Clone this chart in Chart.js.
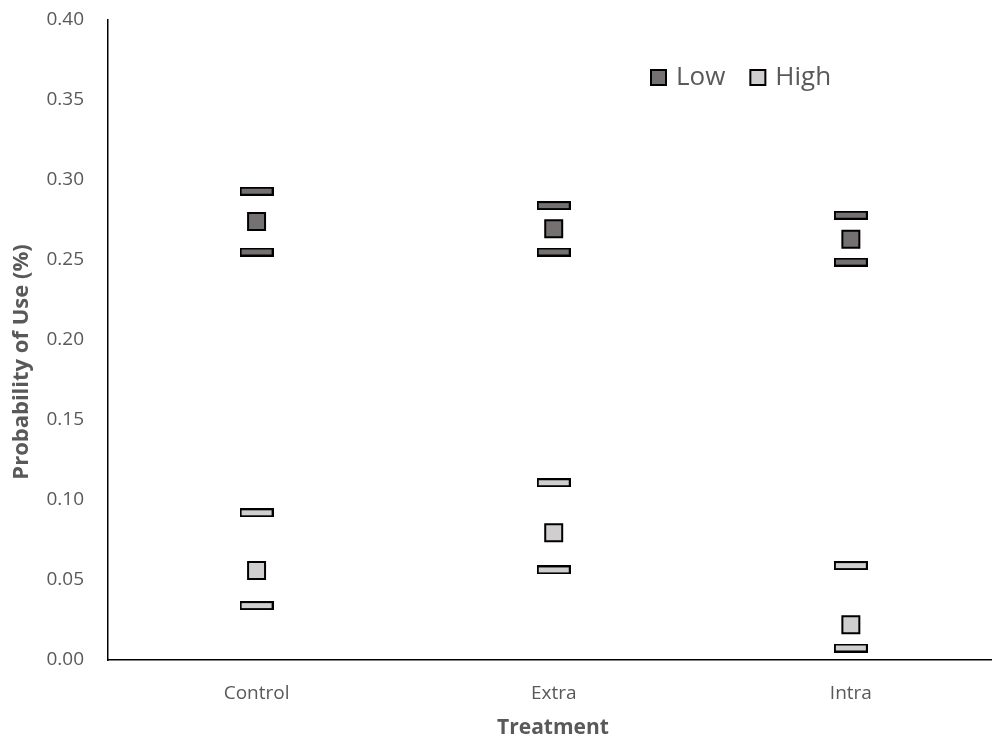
<!DOCTYPE html>
<html>
<head>
<meta charset="utf-8">
<script src="https://cdn.jsdelivr.net/npm/chart.js@4.4.1/dist/chart.umd.min.js"></script>
<style>
  html, body { margin: 0; padding: 0; background: #ffffff; }
  #wrap { position: relative; width: 992px; height: 738px; }
</style>
</head>
<body>
<div id="wrap"><canvas id="chart" width="992" height="738"></canvas></div>
<script>
// Treatment groups along the x axis
const categories = ['Control', 'Extra', 'Intra'];

// Low density: estimate with upper and lower confidence limits
const lowMean  = [0.274, 0.2695, 0.263];
const lowUpper = [0.293, 0.284, 0.278];
const lowLower = [0.255, 0.255, 0.2487];

// High density: estimate with upper and lower confidence limits
const highMean  = [0.056, 0.0795, 0.022];
const highUpper = [0.092, 0.1108, 0.059];
const highLower = [0.034, 0.0563, 0.0075];

// Y axis ticks
const yTicks = [0, 0.05, 0.10, 0.15, 0.20, 0.25, 0.30, 0.35, 0.40];

const LOW_FILL = '#767171';
const HIGH_FILL = '#d0cece';
const TEXT = '#595959';
const FONT = "'Open Sans', 'DejaVu Sans', sans-serif";

// Flat bar used as the marker for the confidence limits
function dashMarker(fill) {
  const c = document.createElement('canvas');
  c.width = 34; c.height = 9;
  const g = c.getContext('2d');
  g.fillStyle = fill;
  g.fillRect(1, 1, 32, 7);
  g.strokeStyle = '#000000';
  g.lineWidth = 2;
  g.strokeRect(1, 1, 32, 7);
  return c;
}

function pts(values) {
  return values.map((v, i) => ({ x: i, y: v }));
}

function series(label, values, fill, style, radius, legend) {
  return {
    label: label,
    data: pts(values),
    showLine: false,
    pointStyle: style,
    pointRadius: radius,
    pointHoverRadius: radius,
    pointBackgroundColor: fill,
    pointBorderColor: '#000000',
    pointBorderWidth: 2,
    backgroundColor: fill,
    borderColor: '#000000',
    inLegend: legend
  };
}

const datasets = [
  series('Low', lowUpper, LOW_FILL, dashMarker(LOW_FILL), 4, false),
  series('Low', lowLower, LOW_FILL, dashMarker(LOW_FILL), 4, false),
  series('High', highUpper, HIGH_FILL, dashMarker(HIGH_FILL), 4, false),
  series('High', highLower, HIGH_FILL, dashMarker(HIGH_FILL), 4, false),
  series('Low', lowMean, LOW_FILL, 'rect', 12, true),
  series('High', highMean, HIGH_FILL, 'rect', 12, true)
];

// Axis titles and legend drawn at fixed spots inside the canvas
const overlay = {
  id: 'overlay',
  afterDraw(chart) {
    const ctx = chart.ctx;

    // y axis title
    ctx.save();
    ctx.translate(22, 362);
    ctx.rotate(-Math.PI / 2);
    ctx.font = "bold 22px " + FONT;
    ctx.fillStyle = TEXT;
    ctx.textAlign = 'center';
    ctx.textBaseline = 'middle';
    ctx.fillText('Probability of Use (%)', 0, 0);
    ctx.restore();

    // x axis title
    ctx.save();
    ctx.font = "bold 21px " + FONT;
    ctx.fillStyle = TEXT;
    ctx.textAlign = 'center';
    ctx.textBaseline = 'middle';
    ctx.fillText('Treatment', 553, 728);
    ctx.restore();

    // legend
    ctx.save();
    ctx.font = "26px " + FONT;
    ctx.textBaseline = 'middle';
    ctx.textAlign = 'left';
    const items = chart.data.datasets.filter(d => d.inLegend);
    let x = 651;
    const y = 78;
    items.forEach(d => {
      ctx.fillStyle = d.backgroundColor;
      ctx.fillRect(x, y - 8, 15, 15);
      ctx.strokeStyle = '#000000';
      ctx.lineWidth = 2;
      ctx.strokeRect(x, y - 8, 15, 15);
      ctx.fillStyle = TEXT;
      ctx.fillText(d.label, x + 25, y);
      x += 25 + ctx.measureText(d.label).width + 25;
    });
    ctx.restore();
  }
};

new Chart(document.getElementById('chart'), {
  type: 'scatter',
  data: { datasets: datasets },
  options: {
    responsive: false,
    animation: false,
    layout: { autoPadding: false, padding: { top: 20, right: 0, left: 0, bottom: 0 } },
    plugins: {
      legend: { display: false },
      tooltip: { enabled: false }
    },
    scales: {
      x: {
        type: 'linear',
        min: -0.5,
        max: 2.475,
        afterBuildTicks(scale) {
          scale.ticks = categories.map((c, i) => ({ value: i }));
        },
        afterFit(scale) {
          scale.height = 78;
          scale.paddingLeft = 0;
          scale.paddingRight = 0;
        },
        grid: { display: false, drawTicks: false },
        border: { color: '#000000', width: 1.5 },
        ticks: {
          padding: 22,
          color: TEXT,
          font: { family: FONT, size: 19 },
          maxRotation: 0,
          callback: (v) => categories[v]
        }
      },
      y: {
        min: 0,
        max: 0.4,
        afterBuildTicks(scale) {
          scale.ticks = yTicks.map(v => ({ value: v }));
        },
        afterFit(scale) {
          scale.width = 108;
          scale.paddingTop = 0;
          scale.paddingBottom = 0;
        },
        grid: { display: false, drawTicks: false },
        border: { color: '#000000', width: 1.5 },
        ticks: {
          padding: 24,
          color: TEXT,
          font: { family: FONT, size: 19 },
          callback: (v) => v.toFixed(2)
        }
      }
    }
  },
  plugins: [overlay]
});
</script>
</body>
</html>
